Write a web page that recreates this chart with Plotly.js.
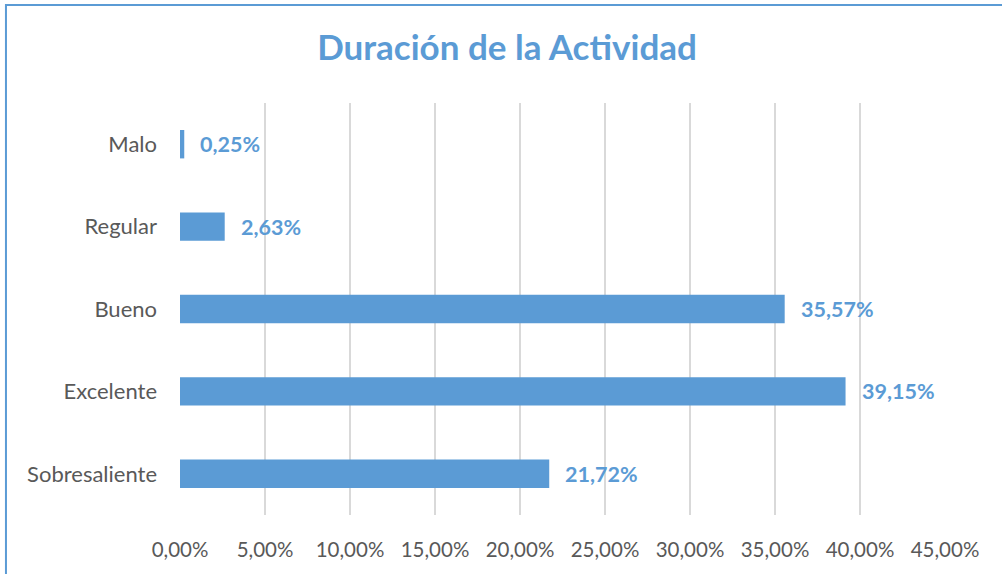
<!DOCTYPE html>
<html>
<head>
<meta charset="utf-8">
<script src="https://cdn.plot.ly/plotly-3.0.1.min.js"></script>
<style>html,body{margin:0;padding:0;background:#fff;}#chart{width:1002px;height:574px;}</style>
</head>
<body>
<div id="chart"></div>
<script>
const categories = ["Malo", "Regular", "Bueno", "Excelente", "Sobresaliente"];
const values = [0.0025, 0.0263, 0.3557, 0.3915, 0.2172];
const tickValues = [0, 0.05, 0.10, 0.15, 0.20, 0.25, 0.30, 0.35, 0.40, 0.45];
const chartTitle = "Duración de la Actividad";

const blue = "#5B9BD5";
const fontFam = "Lato, 'Open Sans', sans-serif";

const trace = {
  type: "bar",
  orientation: "h",
  y: categories,
  x: values,
  marker: {color: blue},
  width: 0.345,
  hoverinfo: "skip"
};

const annotations = categories.map((c, i) => ({
  x: values[i], y: c, xref: "x", yref: "y",
  text: "<b>" + (values[i] * 100).toFixed(2).replace(".", ",") + "%</b>",
  showarrow: false, xanchor: "left", yanchor: "middle", xshift: 14,
  font: {family: fontFam, size: 21.5, color: blue}
}));

const layout = {
  width: 1002, height: 574,
  margin: {l: 180, r: 57, t: 103, b: 59},
  paper_bgcolor: "#fff", plot_bgcolor: "#fff",
  separators: ",.",
  title: {text: "<b>" + chartTitle + "</b>", x: 0.506, xref: "container", xanchor: "center", y: 0.916, yanchor: "middle",
          font: {family: fontFam, size: 35, color: blue}},
  xaxis: {
    range: [0, 0.45], tickvals: tickValues, tickformat: ".2%",
    showgrid: true, gridcolor: "#D9D9D9", gridwidth: 1.5,
    zeroline: false, showline: false, ticks: "", ticklabelstandoff: 20,
    tickfont: {family: fontFam, size: 20.5, color: "#595959"}, fixedrange: true
  },
  yaxis: {
    autorange: "reversed", showgrid: false, zeroline: false, showline: false,
    ticks: "", ticklabelstandoff: 22,
    tickfont: {family: fontFam, size: 22, color: "#595959"}, fixedrange: true
  },
  annotations: annotations,
  shapes: [{
    type: "rect", xref: "paper", yref: "paper",
    x0: -0.2275, x1: 1.2, y0: -0.5, y1: 1.2378,
    line: {color: blue, width: 2}, layer: "below"
  }],
  showlegend: false
};

Plotly.newPlot("chart", [trace], layout, {displayModeBar: false, staticPlot: true});
</script>
</body>
</html>
